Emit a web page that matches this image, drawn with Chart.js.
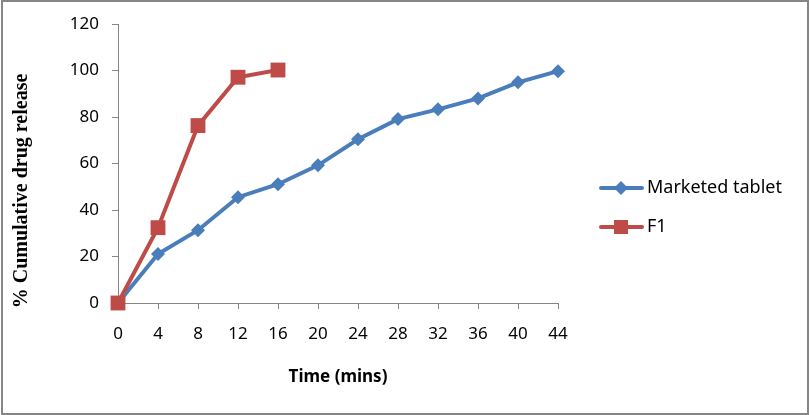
<!DOCTYPE html>
<html>
<head>
<meta charset="utf-8">
<script src="https://cdn.jsdelivr.net/npm/chart.js@4.4.1/dist/chart.umd.min.js"></script>
<style>
  html, body { margin: 0; padding: 0; background: #fff; }
  #wrap { width: 811px; height: 415px; }
</style>
</head>
<body>
<div id="wrap"><canvas id="grafica" width="811" height="415"></canvas></div>
<script>
// Datos
const tiempos = [0, 4, 8, 12, 16, 20, 24, 28, 32, 36, 40, 44];
const marketed = [0, 21.1, 31.3, 45.5, 51.1, 59.2, 70.4, 79.1, 83.3, 88.0, 94.9, 99.7];
const f1 = [0, 32.4, 76.3, 97.1, 100.2];
const yTicks = [0, 20, 40, 60, 80, 100, 120];

const azul = '#4A7EBB';
const rojo = '#BE4B48';
const gris = '#868686';

Chart.defaults.font.family = '"Noto Sans", sans-serif';
Chart.defaults.font.size = 17;
Chart.defaults.color = '#000';

// Marco, titulo del eje Y y leyenda
const extras = {
    id: 'extras',
    afterDraw(chart) {
        const ctx = chart.ctx;
        ctx.save();
        ctx.strokeStyle = gris;
        ctx.lineWidth = 2;
        ctx.strokeRect(2, 1, 806, 413);

        ctx.translate(22, 191);
        ctx.rotate(-Math.PI / 2);
        ctx.fillStyle = '#000';
        ctx.font = 'bold 20px "Liberation Serif", serif';
        ctx.textAlign = 'center';
        ctx.textBaseline = 'middle';
        ctx.fillText('% Cumulative drug release', 0, 0);
        ctx.restore();

        const items = [
            { ds: chart.data.datasets[0], y: 188 },
            { ds: chart.data.datasets[1], y: 227 }
        ];
        items.forEach(it => {
            ctx.save();
            ctx.strokeStyle = it.ds.borderColor;
            ctx.fillStyle = it.ds.borderColor;
            ctx.lineWidth = 4;
            ctx.lineCap = 'round';
            ctx.beginPath();
            ctx.moveTo(601, it.y);
            ctx.lineTo(642, it.y);
            ctx.stroke();
            if (it.ds.pointStyle === 'rectRot') {
                ctx.beginPath();
                ctx.moveTo(621, it.y - 7);
                ctx.lineTo(628, it.y);
                ctx.lineTo(621, it.y + 7);
                ctx.lineTo(614, it.y);
                ctx.closePath();
                ctx.fill();
            } else {
                ctx.fillRect(614, it.y - 7, 14, 14);
            }
            ctx.fillStyle = '#000';
            ctx.font = '18px "Noto Sans", sans-serif';
            ctx.textBaseline = 'middle';
            ctx.fillText(it.ds.label, 647, it.y);
            ctx.restore();
        });
    }
};

const ctx = document.getElementById('grafica').getContext('2d');
const chart = new Chart(ctx, {
    type: 'line',
    data: {
        labels: tiempos,
        datasets: [
            {
                label: 'Marketed tablet',
                data: marketed,
                borderColor: azul,
                backgroundColor: azul,
                borderWidth: 4,
                pointStyle: 'rectRot',
                pointRadius: 7,
                pointBorderWidth: 0,
                tension: 0,
                clip: false,
                order: 1
            },
            {
                label: 'F1',
                data: f1,
                borderColor: rojo,
                backgroundColor: rojo,
                borderWidth: 4,
                pointStyle: 'rect',
                pointRadius: 10.5,
                pointBorderWidth: 0,
                tension: 0,
                clip: false,
                order: 0
            }
        ]
    },
    options: {
        responsive: false,
        animation: false,
        layout: { padding: { left: 0, top: 24, right: 253, bottom: 24 } },
        plugins: {
            legend: { display: false },
            tooltip: { enabled: false }
        },
        scales: {
            x: {
                type: 'category',
                offset: false,
                afterFit: s => { s.height = 88; },
                grid: { drawOnChartArea: false, color: gris, tickLength: 6 },
                border: { color: gris },
                ticks: { padding: 15, maxRotation: 0, autoSkip: false },
                title: {
                    display: true,
                    text: 'Time (mins)',
                    font: { weight: 'bold', size: 17 },
                    padding: { top: 4, bottom: 4 }
                }
            },
            y: {
                min: 0,
                max: 120,
                afterFit: s => { s.width = 118; },
                afterBuildTicks: s => { s.ticks = yTicks.map(v => ({ value: v })); },
                grid: { drawOnChartArea: false, color: gris, tickLength: 6 },
                border: { color: gris },
                ticks: { padding: 13 }
            }
        }
    },
    plugins: [extras]
});
</script>
</body>
</html>
